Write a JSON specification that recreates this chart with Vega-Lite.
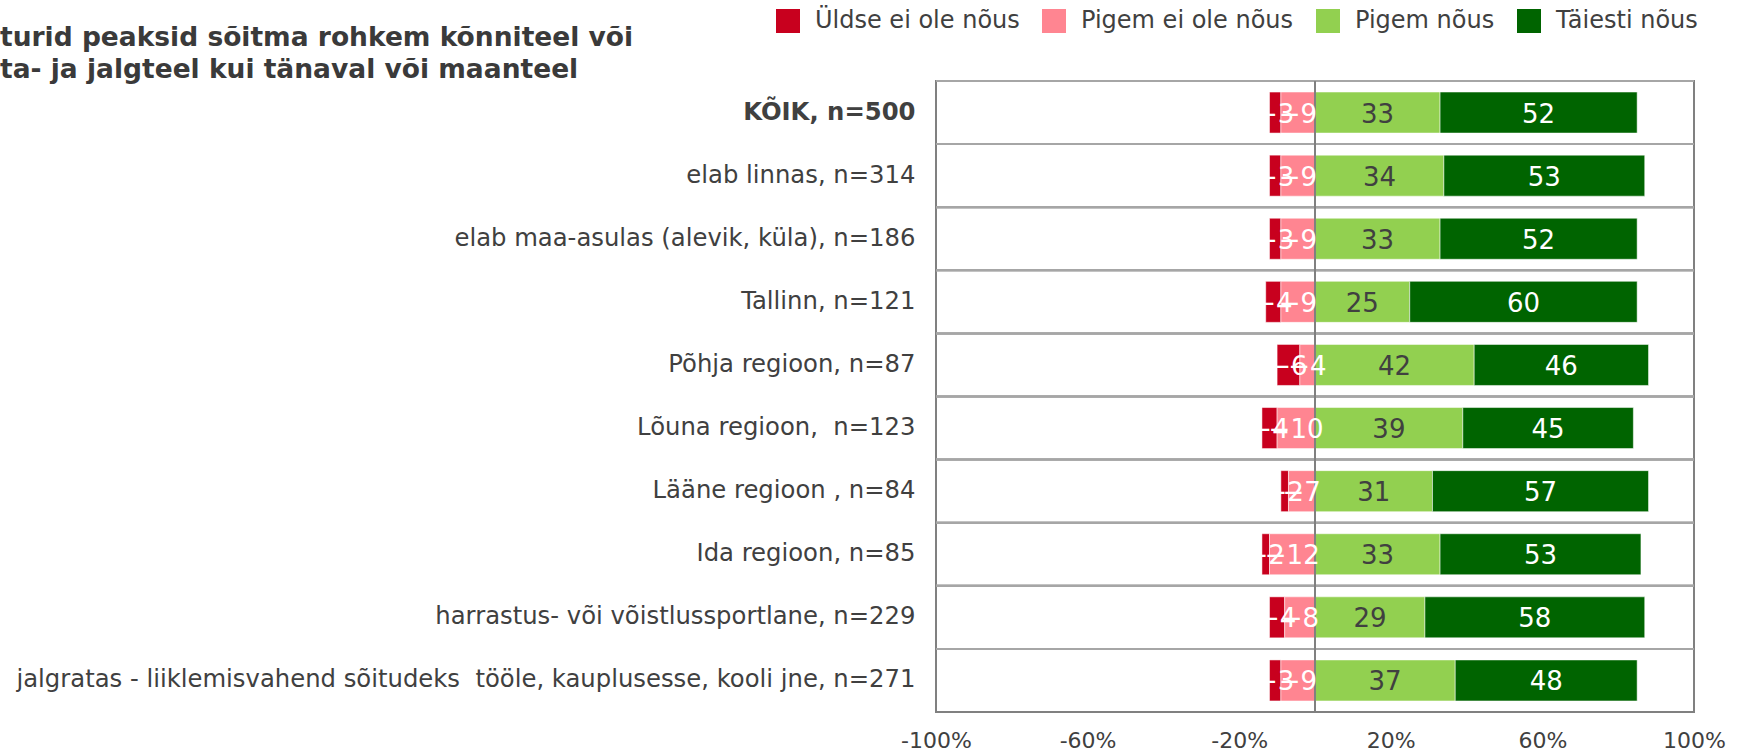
{
  "$schema": "https://vega.github.io/schema/vega-lite/v6.json",
  "width": 758,
  "height": 631,
  "autosize": "none",
  "padding": {"left": 936, "top": 81, "right": 52, "bottom": 41},
  "background": "white",
  "title": {
    "text": ["turid peaksid sõitma rohkem kõnniteel või", "ta- ja jalgteel kui tänaval või maanteel"],
    "anchor": "start",
    "frame": "group",
    "dx": -936,
    "offset": -74,
    "font": "DejaVu Sans",
    "fontSize": 26.5,
    "fontWeight": "bold",
    "color": "#3a3a3a",
    "lineHeight": 32
  },
  "config": {
    "view": {"stroke": "#808080", "strokeWidth": 2},
    "font": "DejaVu Sans"
  },
  "data": {
    "values": [
      {"g": "KÕIK, n=500", "a": "Üldse ei ole nõus", "v": -3},
      {"g": "KÕIK, n=500", "a": "Pigem ei ole nõus", "v": -9},
      {"g": "KÕIK, n=500", "a": "Pigem nõus", "v": 33},
      {"g": "KÕIK, n=500", "a": "Täiesti nõus", "v": 52},
      {"g": "elab linnas, n=314", "a": "Üldse ei ole nõus", "v": -3},
      {"g": "elab linnas, n=314", "a": "Pigem ei ole nõus", "v": -9},
      {"g": "elab linnas, n=314", "a": "Pigem nõus", "v": 34},
      {"g": "elab linnas, n=314", "a": "Täiesti nõus", "v": 53},
      {"g": "elab maa-asulas (alevik, küla), n=186", "a": "Üldse ei ole nõus", "v": -3},
      {"g": "elab maa-asulas (alevik, küla), n=186", "a": "Pigem ei ole nõus", "v": -9},
      {"g": "elab maa-asulas (alevik, küla), n=186", "a": "Pigem nõus", "v": 33},
      {"g": "elab maa-asulas (alevik, küla), n=186", "a": "Täiesti nõus", "v": 52},
      {"g": "Tallinn, n=121", "a": "Üldse ei ole nõus", "v": -4},
      {"g": "Tallinn, n=121", "a": "Pigem ei ole nõus", "v": -9},
      {"g": "Tallinn, n=121", "a": "Pigem nõus", "v": 25},
      {"g": "Tallinn, n=121", "a": "Täiesti nõus", "v": 60},
      {"g": "Põhja regioon, n=87", "a": "Üldse ei ole nõus", "v": -6},
      {"g": "Põhja regioon, n=87", "a": "Pigem ei ole nõus", "v": -4},
      {"g": "Põhja regioon, n=87", "a": "Pigem nõus", "v": 42},
      {"g": "Põhja regioon, n=87", "a": "Täiesti nõus", "v": 46},
      {"g": "Lõuna regioon,\u00a0 n=123", "a": "Üldse ei ole nõus", "v": -4},
      {"g": "Lõuna regioon,\u00a0 n=123", "a": "Pigem ei ole nõus", "v": -10},
      {"g": "Lõuna regioon,\u00a0 n=123", "a": "Pigem nõus", "v": 39},
      {"g": "Lõuna regioon,\u00a0 n=123", "a": "Täiesti nõus", "v": 45},
      {"g": "Lääne regioon , n=84", "a": "Üldse ei ole nõus", "v": -2},
      {"g": "Lääne regioon , n=84", "a": "Pigem ei ole nõus", "v": -7},
      {"g": "Lääne regioon , n=84", "a": "Pigem nõus", "v": 31},
      {"g": "Lääne regioon , n=84", "a": "Täiesti nõus", "v": 57},
      {"g": "Ida regioon, n=85", "a": "Üldse ei ole nõus", "v": -2},
      {"g": "Ida regioon, n=85", "a": "Pigem ei ole nõus", "v": -12},
      {"g": "Ida regioon, n=85", "a": "Pigem nõus", "v": 33},
      {"g": "Ida regioon, n=85", "a": "Täiesti nõus", "v": 53},
      {"g": "harrastus- või võistlussportlane, n=229", "a": "Üldse ei ole nõus", "v": -4},
      {"g": "harrastus- või võistlussportlane, n=229", "a": "Pigem ei ole nõus", "v": -8},
      {"g": "harrastus- või võistlussportlane, n=229", "a": "Pigem nõus", "v": 29},
      {"g": "harrastus- või võistlussportlane, n=229", "a": "Täiesti nõus", "v": 58},
      {"g": "jalgratas - liiklemisvahend sõitudeks\u00a0 tööle, kauplusesse, kooli jne, n=271", "a": "Üldse ei ole nõus", "v": -3},
      {"g": "jalgratas - liiklemisvahend sõitudeks\u00a0 tööle, kauplusesse, kooli jne, n=271", "a": "Pigem ei ole nõus", "v": -9},
      {"g": "jalgratas - liiklemisvahend sõitudeks\u00a0 tööle, kauplusesse, kooli jne, n=271", "a": "Pigem nõus", "v": 37},
      {"g": "jalgratas - liiklemisvahend sõitudeks\u00a0 tööle, kauplusesse, kooli jne, n=271", "a": "Täiesti nõus", "v": 48}
    ]
  },
  "transform": [
    {"stack": "v", "groupby": ["g"], "sort": [{"field": "a", "order": "ascending"}], "as": ["v0", "v1"]},
    {"calculate": "(datum.v0 + datum.v1) / 2", "as": "mid"}
  ],
  "layer": [
    {
      "mark": {"type": "bar", "height": {"band": 0.65}, "stroke": "white", "strokeOpacity": 0.5, "strokeWidth": 1},
      "encoding": {
        "y": {
          "field": "g", "type": "nominal", "sort": null,
          "scale": {"paddingInner": 0, "paddingOuter": 0},
          "axis": {
            "title": null, "ticks": false, "domain": false, "labelPadding": 21,
            "labelFontSize": 24.3, "labelColor": "#404040", "labelLimit": 1200,
            "labelFontWeight": {"condition": {"test": "datum.value === 'KÕIK, n=500'", "value": "bold"}, "value": "normal"}
          }
        },
        "x": {
          "field": "v0", "type": "quantitative",
          "scale": {"domain": [-100, 100], "nice": false, "zero": false},
          "axis": {
            "title": null, "values": [-100, -60, -20, 20, 60, 100],
            "labelExpr": "datum.value + '%'", "grid": false, "ticks": false, "domain": false,
            "labelFontSize": 22, "labelColor": "#404040", "labelPadding": 18,
            "labelFlush": false, "labelOverlap": false
          }
        },
        "x2": {"field": "v1"},
        "color": {
          "field": "a", "type": "nominal",
          "scale": {
            "domain": ["Üldse ei ole nõus", "Pigem ei ole nõus", "Pigem nõus", "Täiesti nõus"],
            "range": ["#c8001e", "#ff8591", "#92d050", "#006400"]
          },
          "legend": {
            "title": null, "orient": "none", "direction": "horizontal",
            "legendX": -160, "legendY": -72,
            "symbolType": "square", "symbolSize": 576, "symbolStrokeWidth": 0, "symbolOpacity": 1,
            "labelFontSize": 24, "labelColor": "#404040", "labelOffset": 15, "labelLimit": 400,
            "columnPadding": 22, "gridAlign": "none"
          }
        }
      }
    },
    {
      "mark": {"type": "rule", "color": "#a6a6a6", "strokeWidth": 2},
      "encoding": {"y": {"field": "g", "type": "nominal", "sort": null, "bandPosition": 0}}
    },
    {
      "mark": {"type": "rule", "color": "#808080", "strokeWidth": 2},
      "encoding": {"x": {"datum": 0}}
    },
    {
      "mark": {"type": "text", "fontSize": 26, "baseline": "middle", "align": "center", "dy": 2},
      "encoding": {
        "y": {"field": "g", "type": "nominal", "sort": null},
        "x": {"field": "mid", "type": "quantitative"},
        "text": {"field": "v", "type": "quantitative", "format": "d"},
        "color": {"condition": {"test": "datum.a === 'Pigem nõus'", "value": "#404040"}, "value": "white"}
      }
    }
  ]
}
